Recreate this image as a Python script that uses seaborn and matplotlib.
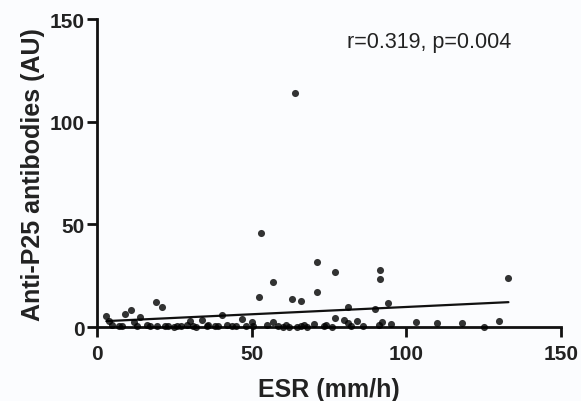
import matplotlib
matplotlib.use("Agg")
import matplotlib.pyplot as plt
import seaborn as sns
import pandas as pd

esr = [3, 4, 5, 7, 8, 9, 11, 12, 13, 14, 16, 17, 19, 19.5, 21, 22, 23, 25, 26, 27,
       29, 30, 31, 32, 34, 35.5, 36, 38, 39, 40.5, 42, 43.5, 45, 47, 48, 50, 50.5,
       52.5, 53, 55, 57, 57, 58.5, 60, 61, 62, 63, 64, 64.5, 66, 66, 67, 68, 70,
       71, 71, 73.5, 74, 76, 77, 77, 80, 81, 81, 82, 84, 86, 90, 91, 91.5, 91.5,
       92, 94, 95, 103, 110, 118, 125, 130, 133]
anti_p25 = [5.2, 3, 1, 0.5, 0.5, 6.3, 8.4, 2.5, 0.3, 4.7, 1, 0.3, 12, 0.5, 9.6, 0.3,
            0.5, 0.2, 0.6, 0.3, 0.8, 3, 0.4, 0.2, 3.5, 0.5, 1, 0.6, 0.4, 6, 1.2,
            0.3, 0.5, 4, 0.7, 2.3, 0.3, 14.5, 46, 0.8, 22, 2.3, 0.6, 0.2, 1, 0,
            13.6, 114, 0.2, 12.8, 0.4, 1.2, 0.2, 1.5, 17, 31.5, 0.3, 0.9, 0, 27,
            4.4, 3.6, 9.6, 1.9, 0.5, 3.1, 0.6, 8.8, 1, 28, 23.5, 2.5, 11.7, 1.3,
            2.6, 2, 2, 0, 3.1, 24]

x_ticks = [0, 50, 100, 150]
y_ticks = [0, 50, 100, 150]
annotation = "r=0.319, p=0.004"

df = pd.DataFrame({"ESR": esr, "AU": anti_p25})

sns.set_style("ticks")
plt.rcParams['font.family'] = ['Liberation Sans', 'DejaVu Sans']

fig = plt.figure(figsize=(5.81, 4.02), dpi=100)
bg = '#fbfcfe'
fig.patch.set_facecolor(bg)
ax = fig.add_axes([0.167, 0.184, 0.7986, 0.766])
ax.set_facecolor(bg)

sns.regplot(data=df, x="ESR", y="AU", ax=ax, ci=None, color='black',
            scatter_kws=dict(s=26, linewidths=0, clip_on=False, zorder=3),
            line_kws=dict(lw=1.6, color='#111111'))

ax.set_xlim(0, 150)
ax.set_ylim(0, 150)
ax.set_xticks(x_ticks)
ax.set_yticks(y_ticks)
for s in ['top', 'right']:
    ax.spines[s].set_visible(False)
for s in ['left', 'bottom']:
    ax.spines[s].set_linewidth(2)
    ax.spines[s].set_color('#111111')
ax.tick_params(axis='both', direction='out', length=7, width=2, color='#111111',
               labelsize=15, pad=2)
ax.tick_params(axis='x', pad=5)
for lab in ax.get_xticklabels() + ax.get_yticklabels():
    lab.set_fontweight('bold')
    lab.set_color('#222222')
ax.set_xlabel("ESR (mm/h)", fontsize=18, fontweight='bold', color='#222222', labelpad=10)
ax.set_ylabel("Anti-P25 antibodies (AU)", fontsize=18, fontweight='bold', color='#222222', labelpad=3)
ax.text(107.5, 139, annotation, fontsize=15.5, ha='center', va='center', color='#222222')

fig.savefig("out.png", dpi=100, facecolor=bg)
